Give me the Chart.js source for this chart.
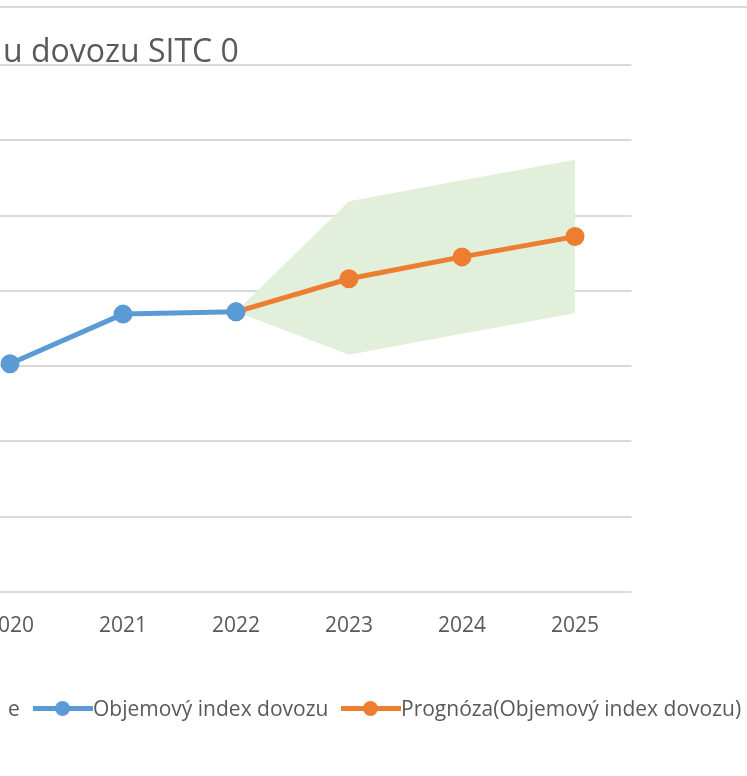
<!DOCTYPE html>
<html>
<head>
<meta charset="utf-8">
<script src="https://cdn.jsdelivr.net/npm/chart.js@4"></script>
<style>
  html, body { margin: 0; padding: 0; background: #fff; overflow: hidden; }
  body { width: 747px; height: 776px; position: relative; font-family: "Open Sans", sans-serif; color: #595959; }
  #frame { position: absolute; left: 0; top: 6px; width: 747px; height: 0; border-top: 2px solid #d9d9d9; }
  #wrap { position: absolute; left: -100px; top: 0; width: 847px; height: 776px; }
  #title { position: absolute; left: 3px; top: 28px; font-size: 32px; white-space: nowrap; z-index: 2; }
  #legend { position: absolute; left: 0; top: 694px; font-size: 21px; white-space: nowrap; z-index: 2; }
  .item { position: absolute; top: 0; height: 28px; line-height: 28px; }
  .icon { position: absolute; top: 12px; width: 60px; height: 5px; }
  .icon span { position: absolute; left: 22px; top: -5px; width: 15px; height: 15px; border-radius: 50%; }
</style>
</head>
<body>
<div id="frame"></div>
<div id="title">u dovozu SITC 0</div>
<div id="wrap"><canvas id="my-chart"></canvas></div>
<div id="legend">
  <div class="item" style="left:8px">e</div>
  <div class="item" style="left:33px"><div class="icon" style="background:#5b9bd5"><span style="background:#5b9bd5"></span></div></div>
  <div class="item" style="left:93px">Objemový index dovozu</div>
  <div class="item" style="left:341px"><div class="icon" style="background:#ed7d31"><span style="background:#ed7d31"></span></div></div>
  <div class="item" style="left:401px">Prognóza(Objemový index dovozu)</div>
</div>
<script>
'use strict';

// data
let years = ['2020', '2021', '2022', '2023', '2024', '2025'];
let actualValues = [100.3, 106.9, 107.2, null, null, null];
let forecastValues = [null, null, 107.2, 111.6, 114.5, 117.2];
let upperValues = [null, null, 107.2, 121.9, 124.7, 127.4];
let lowerValues = [null, null, 107.2, 101.5, 104.3, 107.0];
let yMin = 70;
let yMax = 140;
let yStep = 10;

const ctx = document.getElementById('my-chart').getContext('2d');

let chartData = {
  type: 'line',
  data: {
    labels: years,
    datasets: [{
      label: 'Objemový index dovozu',
      data: actualValues,
      borderColor: '#5b9bd5',
      backgroundColor: '#5b9bd5',
      borderWidth: 5,
      pointRadius: 7,
      pointHoverRadius: 7,
      fill: false
    },
    {
      label: 'Prognóza(Objemový index dovozu)',
      data: forecastValues,
      borderColor: '#ed7d31',
      backgroundColor: '#ed7d31',
      borderWidth: 5,
      pointRadius: 7,
      pointHoverRadius: 7,
      fill: false
    },
    {
      label: 'Horní mez spolehlivosti',
      data: upperValues,
      borderWidth: 0,
      borderColor: 'rgba(0,0,0,0)',
      backgroundColor: '#e2efda',
      pointRadius: 0,
      fill: '+1'
    },
    {
      label: 'Dolní mez spolehlivosti',
      data: lowerValues,
      borderWidth: 0,
      borderColor: 'rgba(0,0,0,0)',
      backgroundColor: '#e2efda',
      pointRadius: 0,
      fill: false
    }]
  },
  options: {
    responsive: false,
    animation: false,
    layout: { padding: { left: 53.5, right: 115.5, top: 65, bottom: 123 } },
    plugins: { legend: { display: false }, tooltip: { enabled: false } },
    scales: {
      x: {
        offset: true,
        grid: { display: false },
        border: { display: false },
        ticks: { color: '#595959', font: { family: 'Open Sans', size: 21 }, padding: 14 }
      },
      y: {
        min: yMin,
        max: yMax,
        ticks: { display: false, stepSize: yStep },
        grid: { color: '#d9d9d9', lineWidth: 2, drawTicks: false },
        border: { display: false }
      }
    }
  }
};

const canvas = document.getElementById('my-chart');
canvas.width = 847;
canvas.height = 776;
new Chart(ctx, chartData);
</script>
</body>
</html>
